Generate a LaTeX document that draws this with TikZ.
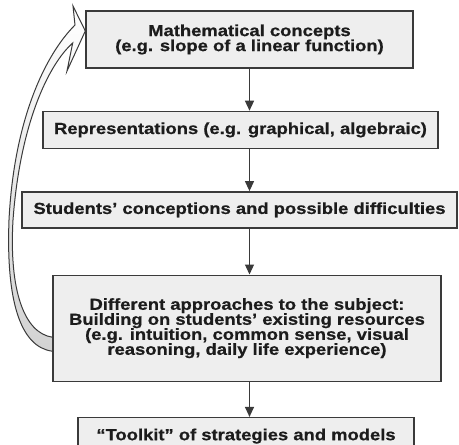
\documentclass[tikz,border=0pt]{standalone}
\usepackage{fontspec}
\setmainfont{Liberation Sans}[FakeStretch=1.15, BoldFeatures={FakeBold=0.6}]
\usetikzlibrary{arrows.meta, positioning, calc, backgrounds}

\definecolor{boxfill}{HTML}{EEEEEE}
\definecolor{boxline}{HTML}{3A3A3A}
\definecolor{textcol}{HTML}{1C1C1C}

\begin{document}
\begin{tikzpicture}[
    x=1pt, y=1pt,
    font=\fontsize{16}{15}\selectfont\bfseries,
    box/.style={draw=boxline, line width=1.4pt, fill=boxfill, text=textcol, align=center, inner sep=0pt},
    arrow/.style={-{Triangle[length=10pt, width=9pt]}, line width=1.2pt, draw=boxline},
    backarrow/.style={draw=boxline, line width=1pt, top color=white, bottom color=gray!35}
]
    \useasboundingbox (0,0) rectangle (459,-445);

    % Nodes
    \node[box, minimum width=327, minimum height=57] (concepts) at (249.5,-39.5) {Mathematical concepts\\(e.g. slope of a linear function)};
    \node[box, minimum width=395, minimum height=37, below=42pt of concepts, xshift=-9pt] (repr) {Representations (e.g. graphical, algebraic)};
    \node[box, minimum width=435, minimum height=36, below=42pt of repr, xshift=-1pt] (conceptions) {Students' conceptions and possible difficulties};
    \node[box, minimum width=388, minimum height=106, below=46pt of conceptions, xshift=7.5pt] (approaches) {Different approaches to the subject:\\Building on students' existing resources\\(e.g. intuition, common sense, visual\\reasoning, daily life experience)};
    \node[box, minimum width=336, minimum height=37, below=35pt of approaches, xshift=-1pt] (toolkit) {``Toolkit'' of strategies and models};

    % Arrows down the column
    \draw[arrow] (concepts.south) -- (concepts.south |- repr.north);
    \draw[arrow] (concepts.south |- repr.south) -- (concepts.south |- conceptions.north);
    \draw[arrow] (concepts.south |- conceptions.south) -- (concepts.south |- approaches.north);
    \draw[arrow] (concepts.south |- approaches.south) -- (concepts.south |- toolkit.north);

    % Feedback arrow (approaches -> concepts)
    \coordinate (tip) at ($(concepts.west)+(0,8.5)$);
    \begin{scope}[on background layer]
    \draw[backarrow]
        ($(approaches.west)+(0,-23)$) .. controls (20,-347) and (6,-300) .. (9,-220)
        .. controls (14,-120) and (45,-55) .. (75,-25)
        -- (73,-6) -- (tip) -- (67,-71) -- (72.7,-43)
        .. controls (48,-65) and (20,-125) .. (13,-220)
        .. controls (9,-290) and (24,-333) .. ($(approaches.west)+(0,-9)$);
    \end{scope}

\end{tikzpicture}
\end{document}
